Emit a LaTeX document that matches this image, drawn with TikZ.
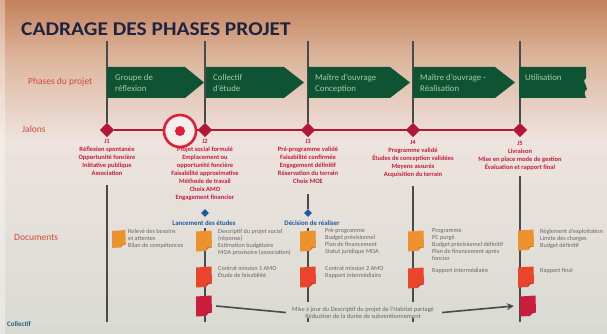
\documentclass[tikz,border=0pt]{standalone}
\usepackage{fontspec}
\setmainfont{Carlito}
\usetikzlibrary{shapes.geometric,arrows.meta}
\definecolor{bgtop}{HTML}{C4825C}
\definecolor{bgup}{HTML}{DDB79E}
\definecolor{bgmid}{HTML}{EEE3DE}
\definecolor{bgbot}{HTML}{D8DBD3}
\definecolor{navy}{HTML}{1E2440}
\definecolor{pgreen}{HTML}{0E5434}
\definecolor{ptext}{HTML}{A3CDA6}
\definecolor{jred}{HTML}{C21E3E}
\definecolor{lred}{HTML}{D2493E}
\definecolor{dred}{HTML}{B2163A}
\definecolor{tred}{HTML}{DD1F3A}
\definecolor{pblue}{HTML}{1B5A9C}
\definecolor{dgray}{HTML}{4A4A4A}
\definecolor{tgray}{HTML}{676767}
\definecolor{dorange}{HTML}{EC922E}
\definecolor{dredd}{HTML}{EA452C}
\definecolor{dcrim}{HTML}{CB1D3E}
\definecolor{cteal}{HTML}{2A5D7A}
\tikzset{
  vline/.style={dgray, line width=1.1pt},
  chev/.style={fill=pgreen},
  chevtext/.style={anchor=north west, align=left, text=ptext, font=\fontsize{8.8}{11}\selectfont, inner sep=0pt},
  sidelabel/.style={anchor=west, text=lred, font=\fontsize{9.5}{11}\selectfont, inner sep=0pt},
  jalon/.style={diamond, fill=dred, minimum width=14pt, minimum height=14pt, inner sep=0pt},
  jtext/.style={anchor=north, align=center, text=jred, font=\fontsize{6.5}{8}\selectfont\bfseries, inner sep=0pt},
  bjalon/.style={diamond, fill=pblue, minimum width=8pt, minimum height=8pt, inner sep=0pt},
  btext/.style={text=pblue, font=\fontsize{6.8}{8}\selectfont\bfseries, inner sep=0pt},
  doctext/.style={anchor=north west, align=left, text=tgray, font=\fontsize{6.2}{7}\selectfont, inner sep=0pt},
  docbox/.style={minimum width=16pt, minimum height=20pt, inner sep=0pt},
}
\newcommand{\docicon}[5]{%
  \node[docbox, scale=#5] (#1) at (#2,#3) {};
  \fill[#4, shift={(#2,#3)}, scale=#5] (-8,-9.5) -- (7.5,-10.5) -- (8,6.5) .. controls (5,6.5) and (3,7.5) .. (2,10) -- (-8,10.5) -- cycle;
  \fill[black, opacity=0.15, shift={(#2,#3)}, scale=#5] (8,6.5) .. controls (5,6.5) and (3,7.5) .. (2,10) -- (3,6) -- cycle;
}
\begin{document}
\begin{tikzpicture}[x=1pt,y=-1pt]
\useasboundingbox (0,0) rectangle (607,334);
% background
\shade[top color=bgtop, bottom color=bgup] (0,0) rectangle (607,60);
\shade[top color=bgup, bottom color=bgmid] (0,60) rectangle (607,140);
\shade[top color=bgmid, bottom color=bgbot] (0,140) rectangle (607,334);
\fill[white, opacity=0.35] (0,0) rectangle (5,334);

% title
\node[anchor=west, inner sep=0pt, text=navy, font=\fontsize{19.5}{21}\selectfont\bfseries, xscale=1.1] (title) at (21,29) {CADRAGE DES PHASES PROJET};

% side labels
\node[sidelabel] (lphases) at (28,82) {Phases du projet};
\node[sidelabel] (ljalons) at (22,129) {Jalons};
\node[sidelabel] (ldocs) at (14,237) {Documents};

% jalons
\node[jalon] (j1) at (107,130) {};
\node[jalon] (j2) at (205,130) {};
\node[jalon] (j3) at (308,130) {};
\node[jalon] (j4) at (413,130) {};
\node[jalon] (j5) at (520,130) {};

% vertical lines (top parts)
\draw[vline] (107,41) -- (j1);
\draw[vline] (205,41) -- (j2);
\draw[vline] (308,41) -- (j3);
\draw[vline] (413,41) -- (j4);
\draw[vline] (520,41) -- (j5);

% red milestone line
\draw[dred, line width=1.8pt] (j1) -- (j5);
\node[circle, draw=tred, line width=2.6pt, fill=bgmid!60!white, minimum size=32pt, inner sep=0pt] (target) at (180,131) {};
\fill[tred] (target.center) circle (5);
\foreach \n in {j1,j2,j3,j4,j5} { \node[jalon] at (\n) {}; }

% chevrons
\fill[chev] (107,67) -- (185,67) -- (204,82.5) -- (185,98) -- (107,98) -- cycle;
\fill[chev] (206,67) -- (284,67) -- (304,82.5) -- (284,98) -- (206,98) -- cycle;
\fill[chev] (308,67) -- (390,67) -- (410,82.5) -- (390,98) -- (308,98) -- cycle;
\fill[chev] (413,67) -- (495,67) -- (515,82.5) -- (495,98) -- (413,98) -- cycle;
\fill[chev] (519,67) -- (586,67) -- (586,78) .. controls (582,81) and (586,84) .. (586,86) -- (587,89) .. controls (583,92) and (585,95) .. (586,98) -- (519,98) -- cycle;
\node[chevtext] (p1) at (115,74) {Groupe de\\réflexion};
\node[chevtext] (p2) at (213,74) {Collectif\\d'étude};
\node[chevtext] (p3) at (315,74) {Maître d'ouvrage\\Conception};
\node[chevtext] (p4) at (420,74) {Maître d'ouvrage -\\Réalisation};
\node[chevtext] (p5) at (525,74) {Utilisation};

% milestone texts
\node[jtext] (jt1) at (107,139.5) {J1\\Réflexion spontanée\\Opportunité foncière\\Initiative publique\\Association};
\node[jtext] (jt2) at (205,139.5) {J2\\Projet social formulé\\Emplacement ou\\opportunité foncière\\Faisabilité approximative\\Méthode de travail\\Choix AMO\\Engagement financier};
\node[jtext] (jt3) at (308,139.5) {J3\\Pré-programme validé\\Faisabilité confirmée\\Engagement définitif\\Réservation du terrain\\Choix MOE};
\node[jtext] (jt4) at (413,140.5) {J4\\Programme validé\\Études de conception validées\\Moyens assurés\\Acquisition du terrain};
\node[jtext] (jt5) at (520,141) {J5\\Livraison\\Mise en place mode de gestion\\Évaluation et rapport final};

% decisions
\node[bjalon] (bd1) at (205,213) {};
\node[bjalon] (bd2) at (308,213) {};
\node[btext] (bt1) at (204,223) {Lancement des études};
\node[btext] (bt2) at (312,223) {Décision de réaliser};

% vertical lines (lower parts)
\draw[vline] (107,185) -- (107,322);
\draw[vline] (205,228) -- (205,322);
\draw[vline] (308,194) -- (bd2);
\draw[vline] (308,228) -- (308,302);
\draw[vline] (308,318) -- (308,322);
\draw[vline] (413,186) -- (413,302);
\draw[vline] (413,318) -- (413,322);
\draw[vline] (520,176) -- (520,322);

% documents
\docicon{d1a}{119}{239}{dorange}{0.85}
\docicon{d2a}{204}{241}{dorange}{1}
\docicon{d2b}{204}{277}{dredd}{1}
\docicon{d2c}{204}{306}{dcrim}{1}
\docicon{d3a}{308}{241}{dorange}{1}
\docicon{d3b}{308}{277}{dredd}{1}
\docicon{d4a}{416}{241}{dorange}{1}
\docicon{d4b}{416}{278}{dredd}{1}
\docicon{d5a}{526}{240}{dorange}{1}
\docicon{d5b}{526}{277}{dredd}{1}
\docicon{d5c}{528}{306}{dcrim}{1}

\node[doctext] (t1) at (128,228.5) {Relevé des besoins\\et attentes\\Bilan de compétences};
\node[doctext] (t2a) at (218,228.5) {Descriptif du projet social\\(réponse)\\Estimation budgétaire\\MOA provisoire (association)};
\node[doctext] (t2b) at (218,266.5) {Contrat mission 1 AMO\\Étude de faisabilité};
\node[doctext] (t3a) at (325,228.5) {Pré-programme\\Budget prévisionnel\\Plan de financement\\Statut juridique MOA};
\node[doctext] (t3b) at (325,266.5) {Contrat mission 2 AMO\\Rapport intermédiaire};
\node[doctext] (t4a) at (432,228.5) {Programme\\PC purgé\\Budget prévisionnel définitif\\Plan de financement après\\foncier};
\node[doctext] (t4b) at (432,267.5) {Rapport intermédiaire};
\node[doctext] (t5a) at (540,228.5) {Règlement d'exploitation\\Limite des charges\\Budget définitif};
\node[doctext] (t5b) at (540,267.5) {Rapport final};

% bottom update
\node[align=center, text=tgray, font=\fontsize{6.4}{7}\selectfont, inner sep=0pt] (mise) at (363,312.5) {Mise à jour du Descriptif du projet de l'Habitat partagé\\Réduction de la durée de subventionnement};
\draw[dgray, line width=1.6pt] ([xshift=4pt]d2c.east) -- ([xshift=-6pt]mise.west);
\draw[dgray, line width=1.6pt, -{Stealth[length=7pt,width=7pt]}] ([xshift=8pt]mise.east) -- ([xshift=-6pt]d5c.west);

% bottom-left
\node[anchor=west, inner sep=0pt, text=cteal, font=\fontsize{7}{8}\selectfont\bfseries] (coll) at (7,324) {Collectif};
\end{tikzpicture}
\end{document}
